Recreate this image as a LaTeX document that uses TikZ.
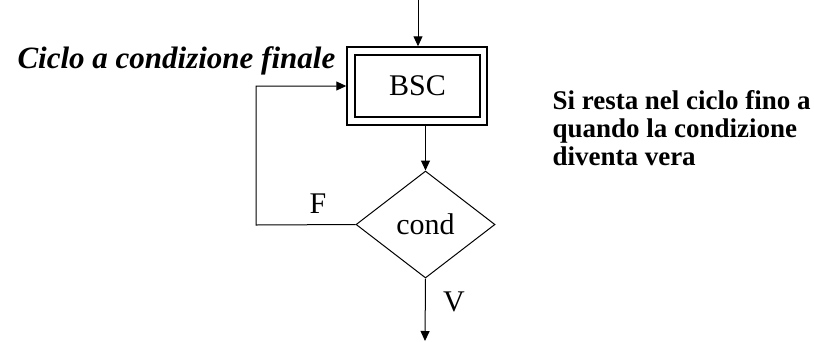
\documentclass[tikz,border=0pt]{standalone}
\usepackage{fontspec}
\setmainfont{Liberation Serif}
\usetikzlibrary{shapes.geometric,arrows.meta}
\begin{document}
\begin{tikzpicture}[x=1pt,y=-1pt,
  line width=1pt,
  arr/.style={-{Triangle[length=10pt,width=9pt]}},
  big/.style={font=\fontsize{30}{36}\selectfont},
  boxo/.style={draw,line width=1.5pt,minimum width=140pt,minimum height=78pt,inner sep=0pt},
  boxi/.style={draw,line width=1.5pt,minimum width=125pt,minimum height=62pt,inner sep=0pt},
  dia/.style={draw,diamond,aspect=1.3,minimum width=139pt,minimum height=107pt,inner sep=0pt}]
\useasboundingbox (0,0) rectangle (814,341);
\node[boxo] (bsc) at (417,86) {};
\node[boxi,big] (bscin) at (417.5,86) {BSC};
\node[dia,big] (cond) at (425.5,224.5) {cond};
\coordinate (top) at (418,0);
\coordinate (loop) at (256,225);
\coordinate (end) at (425,341);
\draw[arr] (top) -- (bsc.north -| top);
\draw[arr] (cond.north |- bsc.south) -- (cond.north);
\draw[arr] (cond.west) -- (loop) |- (bsc.west);
\draw[arr] (cond.south) -- (end);
\node[big] (f) at (318,204) {F};
\node[big] (v) at (454,302) {V};
\node[anchor=base west,inner sep=0pt,font=\fontsize{31}{36}\selectfont\bfseries\itshape] (title) at (17,68) {Ciclo a condizione finale};
\node[anchor=north west,align=left,inner sep=0pt,font=\fontsize{27}{28}\selectfont\bfseries] (note) at (552,90) {Si resta nel ciclo fino a\\[0pt]quando la condizione\\[0pt]diventa vera};
\end{tikzpicture}
\end{document}
